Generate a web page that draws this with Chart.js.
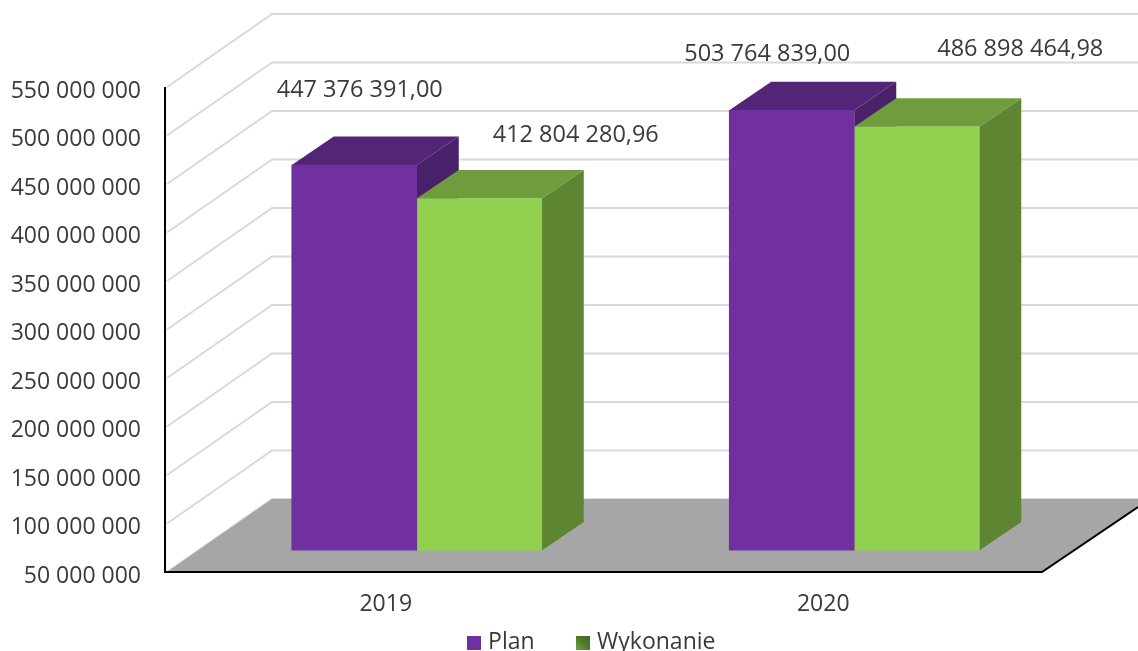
<!DOCTYPE html>
<html lang="en">
<head>
<meta charset="UTF-8">
<title>Plan / Wykonanie</title>
<script src="https://cdn.jsdelivr.net/npm/chart.js"></script>
<style>
    html, body { margin: 0; padding: 0; background: #fff; overflow: hidden; }
    /* canvas runs past the window on purpose, the legend is cut at the bottom edge */
    #wrap { position: relative; width: 1138px; height: 651px; overflow: hidden; }
    canvas { display: block; }
</style>
</head>
<body>
<div id="wrap"><canvas id="chartCanvas" width="1138" height="699"></canvas></div>
<script>
const categories = ['2019', '2020'];
const planValues = [447376391.00, 503764839.00];
const wykonanieValues = [412804280.96, 486898464.98];
const planLabels = ['447 376 391,00', '503 764 839,00'];
const wykonanieLabels = ['412 804 280,96', '486 898 464,98'];
const seriesNames = ['Plan', 'Wykonanie'];
const tickValues = [50, 100, 150, 200, 250, 300, 350, 400, 450, 500, 550];

const FONT = '"Open Sans", sans-serif';
const FONT_SIZE = 23;
const LABEL_FONT_SIZE = 23.5;
const TEXT = '#3a3a3a';
// 3d box: wall depth and bar offset/depth, in px
const SCENE_DY = -4;
const WALL = { dx: 105, dy: -73 };
const BAR_SHIFT = { dx: 31, dy: -25.5 };
const BAR_DEPTH = { dx: 42, dy: -28.5 };
const faces = [
    { top: '#542577', side: '#49206a' },
    { top: '#6f9c3c', side: '#5e8532' }
];
// label centres relative to bar top centre
const labelOffsets = [
    [{ x: 5.5, y: -75 }, { x: -24.5, y: -56 }],
    [{ x: 96.5, y: -63 }, { x: 103.5, y: -77 }]
];

function legendSwatch(draw) {
    const c = document.createElement('canvas');
    c.width = 14;
    c.height = 14;
    draw(c.getContext('2d'));
    return c;
}
const swatches = [
    legendSwatch(g => { g.fillStyle = '#7030a0'; g.fillRect(0, 0, 14, 14); }),
    legendSwatch(g => {
        const grad = g.createLinearGradient(0, 14, 14, 0);
        grad.addColorStop(0, '#76a83f');
        grad.addColorStop(0.5, '#4f7a2a');
        grad.addColorStop(1, '#436a24');
        g.fillStyle = grad;
        g.fillRect(0, 0, 14, 14);
    })
];

const sceneryPlugin = {
    id: 'scenery',
    afterLayout(chart) {
        // legend sits off centre and low, partly under the window edge
        chart.legend.left = 144;
        chart.legend.right = 1042;
        chart.legend.top = 586;
        chart.legend.bottom = 699;
    },
    beforeDatasetsDraw(chart) {
        const { ctx, chartArea: a, scales: { y } } = chart;
        const top = a.top + SCENE_DY, bottom = a.bottom + SCENE_DY;
        ctx.save();
        // grid on side wall and back wall
        ctx.strokeStyle = '#d9d9d9';
        ctx.lineWidth = 2;
        tickValues.forEach(t => {
            const py = y.getPixelForValue(t * 1e6) + SCENE_DY;
            ctx.beginPath();
            ctx.moveTo(a.left, py);
            ctx.lineTo(a.left + WALL.dx, py + WALL.dy);
            ctx.lineTo(1138, py + WALL.dy);
            ctx.stroke();
        });
        // floor
        ctx.fillStyle = '#a6a6a6';
        ctx.beginPath();
        ctx.moveTo(a.left, bottom);
        ctx.lineTo(a.left + WALL.dx, bottom + WALL.dy);
        ctx.lineTo(1138, bottom + WALL.dy);
        ctx.lineTo(1138, bottom - 65);
        ctx.lineTo(a.right, bottom);
        ctx.closePath();
        ctx.fill();
        // axis lines
        ctx.strokeStyle = '#000';
        ctx.lineWidth = 2;
        ctx.beginPath();
        ctx.moveTo(a.left - 2, top);
        ctx.lineTo(a.left - 2, bottom);
        ctx.lineTo(a.right, bottom);
        ctx.lineTo(1138, bottom - 65);
        ctx.stroke();
        ctx.restore();

        // bars stand inside the box, so move them back and add top + side faces
        ctx.save();
        ctx.translate(BAR_SHIFT.dx, BAR_SHIFT.dy);
        for (let c = 0; c < categories.length; c++) {
            for (let d = 0; d < chart.data.datasets.length; d++) {
                const bar = chart.getDatasetMeta(d).data[c];
                const half = bar.width / 2;
                const l = bar.x - half, r = bar.x + half, t = bar.y, b = a.bottom;
                ctx.fillStyle = faces[d].side;
                ctx.beginPath();
                ctx.moveTo(r, t);
                ctx.lineTo(r + BAR_DEPTH.dx, t + BAR_DEPTH.dy);
                ctx.lineTo(r + BAR_DEPTH.dx, b + BAR_DEPTH.dy);
                ctx.lineTo(r, b);
                ctx.closePath();
                ctx.fill();
                ctx.fillStyle = faces[d].top;
                ctx.beginPath();
                ctx.moveTo(l, t);
                ctx.lineTo(l + BAR_DEPTH.dx, t + BAR_DEPTH.dy);
                ctx.lineTo(r + BAR_DEPTH.dx, t + BAR_DEPTH.dy);
                ctx.lineTo(r, t);
                ctx.closePath();
                ctx.fill();
            }
        }
    },
    afterDatasetsDraw(chart) {
        const { ctx } = chart;
        ctx.restore();
        ctx.save();
        ctx.font = LABEL_FONT_SIZE + 'px ' + FONT;
        ctx.fillStyle = TEXT;
        ctx.textAlign = 'center';
        ctx.textBaseline = 'middle';
        [planLabels, wykonanieLabels].forEach((labels, d) => {
            chart.getDatasetMeta(d).data.forEach((bar, c) => {
                const off = labelOffsets[d][c];
                ctx.fillText(labels[c], bar.x + BAR_SHIFT.dx + off.x, bar.y + BAR_SHIFT.dy + off.y);
            });
        });
        ctx.restore();
    }
};

new Chart(document.getElementById('chartCanvas'), {
    type: 'bar',
    data: {
        labels: categories,
        datasets: [
            { label: seriesNames[0], data: planValues, backgroundColor: '#7030a0', barThickness: 125 },
            { label: seriesNames[1], data: wykonanieValues, backgroundColor: '#92d050', barThickness: 125 }
        ]
    },
    options: {
        responsive: false,
        animation: false,
        layout: { padding: { left: 0, right: 96, top: 91, bottom: 0 } },
        scales: {
            x: {
                offset: true,
                afterFit(scale) { scale.height = 45; },
                grid: { display: false },
                border: { display: false },
                ticks: { color: TEXT, font: { family: FONT, size: FONT_SIZE }, padding: 7, maxRotation: 0 }
            },
            y: {
                min: 50000000,
                max: 550000000,
                afterFit(scale) { scale.width = 167; },
                grid: { display: false },
                border: { display: false },
                ticks: {
                    stepSize: 50000000,
                    color: TEXT,
                    font: { family: FONT, size: FONT_SIZE },
                    padding: 18,
                    callback: v => (v / 1e6) + ' 000 000'
                }
            }
        },
        plugins: {
            legend: {
                position: 'bottom',
                labels: {
                    color: TEXT,
                    font: { family: FONT, size: FONT_SIZE },
                    usePointStyle: true,
                    boxWidth: 6,
                    boxHeight: 14,
                    padding: 45,
                    generateLabels(chart) {
                        const items = Chart.defaults.plugins.legend.labels.generateLabels(chart);
                        items.forEach((it, i) => { it.pointStyle = swatches[i]; });
                        return items;
                    }
                }
            },
            tooltip: { enabled: false }
        }
    },
    plugins: [sceneryPlugin]
});
</script>
</body>
</html>
